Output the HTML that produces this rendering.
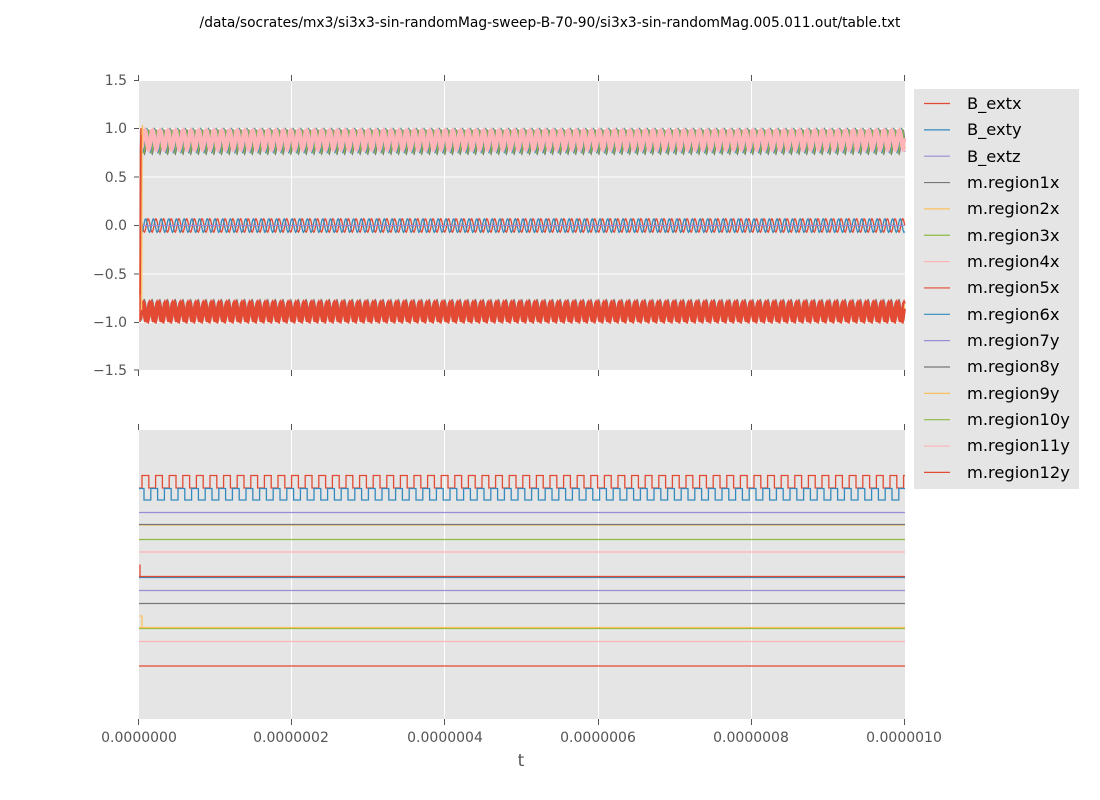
<!DOCTYPE html>
<html><head><meta charset="utf-8">
<style>
body{margin:0;background:#fff;}
svg{display:block;}
text{font-family:"DejaVu Sans","Liberation Sans",sans-serif;}
</style></head>
<body>
<svg id="s" width="1100" height="800" xmlns="http://www.w3.org/2000/svg">
<rect width="1100" height="800" fill="#fff"/>
<text x="550" y="27" font-size="13.8" text-anchor="middle" fill="#000">/data/socrates/mx3/si3x3-sin-randomMag-sweep-B-70-90/si3x3-sin-randomMag.005.011.out/table.txt</text>
<rect x="139" y="81" width="766" height="289" fill="#e5e5e5"/>
<rect x="139" y="430" width="766" height="289" fill="#e5e5e5"/>
<g stroke="#fff" stroke-width="1">
<line x1="139" y1="128.5" x2="905" y2="128.5"/><line x1="139" y1="177" x2="905" y2="177"/>
<line x1="139" y1="225.5" x2="905" y2="225.5"/><line x1="139" y1="274" x2="905" y2="274"/>
<line x1="139" y1="322.5" x2="905" y2="322.5"/>
<line x1="291.5" y1="81" x2="291.5" y2="370"/><line x1="444.5" y1="81" x2="444.5" y2="370"/>
<line x1="598.5" y1="81" x2="598.5" y2="370"/><line x1="751.5" y1="81" x2="751.5" y2="370"/>
<line x1="291.5" y1="430" x2="291.5" y2="719"/><line x1="444.5" y1="430" x2="444.5" y2="719"/>
<line x1="598.5" y1="430" x2="598.5" y2="719"/><line x1="751.5" y1="430" x2="751.5" y2="719"/>
</g>
<g id="series"></g>
<g stroke="#555" stroke-width="1">
<line x1="134" y1="80.5" x2="139" y2="80.5"/><line x1="134" y1="128.5" x2="139" y2="128.5"/>
<line x1="134" y1="177" x2="139" y2="177"/><line x1="134" y1="225.5" x2="139" y2="225.5"/>
<line x1="134" y1="274" x2="139" y2="274"/><line x1="134" y1="322.5" x2="139" y2="322.5"/>
<line x1="134" y1="370" x2="139" y2="370"/>
<line x1="138.5" y1="75" x2="138.5" y2="81"/><line x1="291.5" y1="75" x2="291.5" y2="81"/><line x1="444.5" y1="75" x2="444.5" y2="81"/><line x1="598.5" y1="75" x2="598.5" y2="81"/><line x1="751.5" y1="75" x2="751.5" y2="81"/><line x1="904.5" y1="75" x2="904.5" y2="81"/>
<line x1="138.5" y1="370" x2="138.5" y2="376"/><line x1="291.5" y1="370" x2="291.5" y2="376"/><line x1="444.5" y1="370" x2="444.5" y2="376"/><line x1="598.5" y1="370" x2="598.5" y2="376"/><line x1="751.5" y1="370" x2="751.5" y2="376"/><line x1="904.5" y1="370" x2="904.5" y2="376"/>
<line x1="138.5" y1="424" x2="138.5" y2="430"/><line x1="291.5" y1="424" x2="291.5" y2="430"/><line x1="444.5" y1="424" x2="444.5" y2="430"/><line x1="598.5" y1="424" x2="598.5" y2="430"/><line x1="751.5" y1="424" x2="751.5" y2="430"/><line x1="904.5" y1="424" x2="904.5" y2="430"/>
<line x1="138.5" y1="719" x2="138.5" y2="725"/><line x1="291.5" y1="719" x2="291.5" y2="725"/><line x1="444.5" y1="719" x2="444.5" y2="725"/><line x1="598.5" y1="719" x2="598.5" y2="725"/><line x1="751.5" y1="719" x2="751.5" y2="725"/><line x1="904.5" y1="719" x2="904.5" y2="725"/>
</g>
<g font-size="14" fill="#555" text-anchor="end">
<text x="127" y="85">1.5</text><text x="127" y="133">1.0</text><text x="127" y="182">0.5</text>
<text x="127" y="230">0.0</text><text x="127" y="279">−0.5</text><text x="127" y="327">−1.0</text><text x="127" y="375">−1.5</text>
</g>
<g font-size="14" fill="#555" text-anchor="middle">
<text x="139" y="742">0.0000000</text><text x="291" y="742">0.0000002</text><text x="445" y="742">0.0000004</text>
<text x="598" y="742">0.0000006</text><text x="751" y="742">0.0000008</text><text x="904" y="742">0.0000010</text>
</g>
<text x="521" y="766" font-size="17" fill="#555" text-anchor="middle">t</text>
<rect x="914" y="89" width="165" height="400" fill="#e5e5e5"/>
<g id="leg" font-size="16.3" fill="#000">
<text x="967" y="109">B_extx</text><text x="967" y="135">B_exty</text><text x="967" y="162">B_extz</text>
<text x="967" y="188">m.region1x</text><text x="967" y="214">m.region2x</text><text x="967" y="241">m.region3x</text>
<text x="967" y="267">m.region4x</text><text x="967" y="293">m.region5x</text><text x="967" y="320">m.region6x</text>
<text x="967" y="346">m.region7y</text><text x="967" y="372">m.region8y</text><text x="967" y="399">m.region9y</text>
<text x="967" y="425">m.region10y</text><text x="967" y="451">m.region11y</text><text x="967" y="478">m.region12y</text>
</g>
</svg>
<script>
var C=["#E24A33","#348ABD","#988ED5","#777777","#FBC15E","#8EBA42","#FFB5B8","#E24A33","#348ABD","#988ED5","#777777","#FBC15E","#8EBA42","#FFB5B8","#E24A33"];
var s=document.getElementById('s'),g=document.getElementById('series'),NS="http://www.w3.org/2000/svg";
function P(d,c,w){var p=document.createElementNS(NS,'path');p.setAttribute('d',d);p.setAttribute('stroke',c);p.setAttribute('stroke-width',w||1.2);p.setAttribute('fill','none');g.appendChild(p);}
for(var i=0;i<15;i++){var y=103.5+i*26.35;var l=document.createElementNS(NS,'line');l.setAttribute('x1',924);l.setAttribute('x2',950);l.setAttribute('y1',y);l.setAttribute('y2',y);l.setAttribute('stroke',C[i]);l.setAttribute('stroke-width',1.2);s.appendChild(l);}
var per=7.7;
function Y(v){return 225.5-v*96.8;}
function wave(f){var d="";for(var x=141;x<=905;x+=0.7){var v=f(x);d+=(d?"L":"M")+x.toFixed(1)+","+Y(v).toFixed(1);}return d;}
function sn(x,ph){return Math.sin(2*Math.PI*x/per+ph);}
// bottom band
P(wave(function(x){return -0.88-0.11*sn(x,0);}),"#777777",1.5);
P(wave(function(x){return -0.9-0.1*sn(x,1);}),"#FBC15E",1.5);
P(wave(function(x){return -0.895-0.105*sn(x,0.4);}),"#E24A33",2.5);
P(wave(function(x){return -0.89-0.1*sn(x,2.2);}),"#E24A33",2.5);
// top band
P(wave(function(x){return 0.865+0.125*sn(x,0);}),"#777777",1.5);
P(wave(function(x){return 0.875+0.12*sn(x,0.6);}),"#8EBA42",1.5);
P(wave(function(x){return 0.88+0.12*sn(x,1.5);}),"#348ABD",1.5);
P(wave(function(x){return 0.89+0.1*sn(x,2.3);}),"#FFB5B8",3);
P(wave(function(x){return 0.89+0.1*sn(x,3.3);}),"#FFB5B8",3);
// middle sines
P(wave(function(x){return 0.07*sn(x,0);}),"#E24A33",1.3);
P(wave(function(x){return 0.07*sn(x,2.1);}),"#348ABD",1.3);
P("M141,225.5L905,225.5","#988ED5",1);
// transients
P("M140,295L140.5,150L141,128","#E24A33",1.5);
P("M141.5,310L142,150L142.5,125","#FBC15E",1.5);
P("M140,322L140.5,225L141,135","#E24A33",1.5);
// bottom plot
function sq(y1,y2,p,c,o){var d="M139,"+y1;var up=true;for(var x=139+o;x<905;x+=p/2){d+="L"+x.toFixed(1)+","+(up?y1:y2)+"L"+x.toFixed(1)+","+(up?y2:y1);up=!up;}d+="L905,"+(up?y1:y2);P(d,c,1.3);}
sq(488,475.5,13.6,"#E24A33",3);
sq(488.5,500,13.6,"#348ABD",5);
var H=[[512.5,"#988ED5"],[525,"#FBC15E"],[524.5,"#777777"],[539.5,"#8EBA42"],[552,"#FFB5B8"],[577.5,"#348ABD"],[576.5,"#E24A33"],[590.5,"#988ED5"],[603.5,"#777777"],[628.5,"#8EBA42"],[627.5,"#FBC15E"],[641.5,"#FFB5B8"],[666,"#E24A33"]];
H.forEach(function(h){P("M139,"+h[0]+"L905,"+h[0],h[1],1.3);});
P("M139.5,565L140,565L140,576.5","#E24A33",1.3);
P("M139.5,616L142,616L142,627.5","#FBC15E",1.3);
</script>
</body></html>
